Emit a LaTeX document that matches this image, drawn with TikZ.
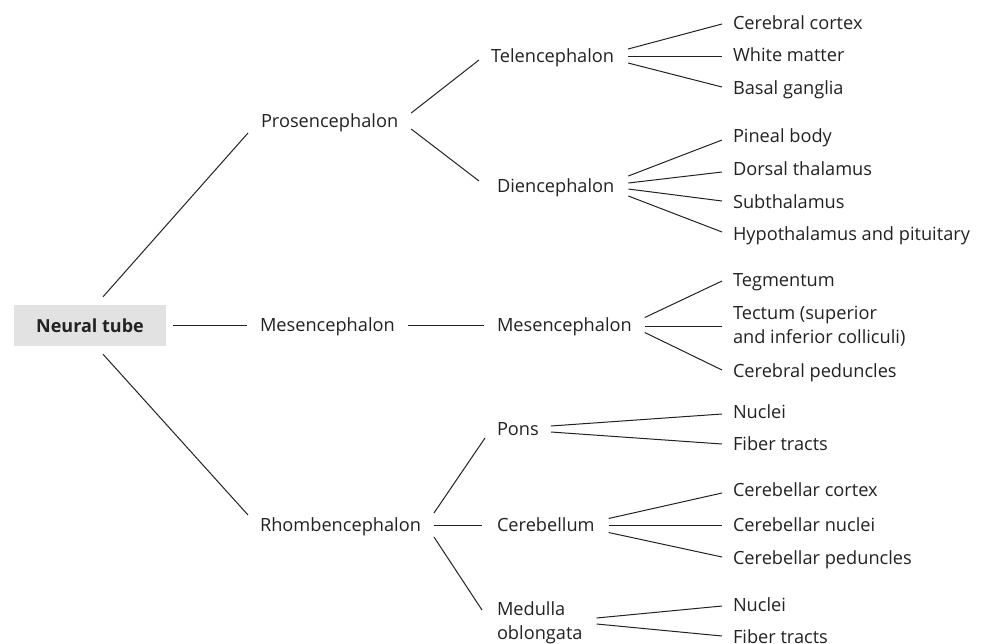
\documentclass[tikz,border=0pt]{standalone}
\usepackage{fontspec}
\setmainfont{Open Sans}
\usetikzlibrary{calc}
\definecolor{txt}{HTML}{222222}
\definecolor{boxgray}{HTML}{E2E2E2}
\tikzset{
  lbl/.style={anchor=west,inner sep=0pt,outer sep=0pt,text height=12.8pt,text depth=0pt,
    font=\fontsize{18.2}{24}\selectfont,text=txt,align=left},
  lbltwo/.style={lbl,text height=36.8pt},
  rootbox/.style={fill=boxgray,inner sep=0pt,minimum width=152pt,minimum height=41pt,
    font=\fontsize{18}{24}\selectfont\bfseries,text=txt},
  conn/.style={draw=txt,line width=1pt}
}
\begin{document}
\begin{tikzpicture}[x=1pt,y=-1pt]
\useasboundingbox (0,0) rectangle (988,643);
% root
\node[rootbox] (nt) at (90,325.5) {Neural tube};
% level 1
\node[lbl] (pros) at (261,121) {Prosencephalon};
\node[lbl] (mes1) at (260,325.5) {Mesencephalon};
\node[lbl] (rhomb) at (260,525) {Rhombencephalon};
% level 2
\node[lbl] (tel) at (491,56) {Telencephalon};
\node[lbl] (dien) at (497,186) {Diencephalon};
\node[lbl] (mes2) at (497,325.5) {Mesencephalon};
\node[lbl] (pons) at (497,429) {Pons};
\node[lbl] (cereb) at (497,525.5) {Cerebellum};
\node[lbltwo] (med) at (497,621) {Medulla\\oblongata};
% level 3
\node[lbl] (cc) at (733,23.5) {Cerebral cortex};
\node[lbl] (wm) at (733,55.5) {White matter};
\node[lbl] (bg) at (733,88) {Basal ganglia};
\node[lbl] (pb) at (733,136) {Pineal body};
\node[lbl] (dt) at (733,169.5) {Dorsal thalamus};
\node[lbl] (st) at (733,202.5) {Subthalamus};
\node[lbl] (hy) at (733,234) {Hypothalamus and pituitary};
\node[lbl] (teg) at (733,280.5) {Tegmentum};
\node[lbltwo] (tec) at (733,325) {Tectum (superior\\and inferior colliculi)};
\node[lbl] (cp) at (733,371) {Cerebral peduncles};
\node[lbl] (n1) at (733,412) {Nuclei};
\node[lbl] (ft1) at (733,444.5) {Fiber tracts};
\node[lbl] (ccx) at (733,490.5) {Cerebellar cortex};
\node[lbl] (cn) at (733,525.5) {Cerebellar nuclei};
\node[lbl] (cpd) at (733,558) {Cerebellar peduncles};
\node[lbl] (n2) at (733,605.5) {Nuclei};
\node[lbl] (ft2) at (733,637) {Fiber tracts};
% root connectors
\draw[conn] ($(nt.north)+(13,-8)$) -- ($(pros.west)+(-13,12)$);
\draw[conn] ($(nt.east)+(7,0)$) -- ($(mes1.west)+(-13,0)$);
\draw[conn] ($(nt.south)+(13,8)$) -- ($(rhomb.west)+(-12,-10)$);
% level 1 connectors
\draw[conn] ($(pros.east)+(13,-8)$) -- ($(tel.west)+(-12,4)$);
\draw[conn] ($(pros.east)+(13,8)$) -- ($(dien.west)+(-18,-5)$);
\draw[conn] ($(mes1.east)+(13,0)$) -- ($(mes2.west)+(-13,0)$);
\draw[conn] ($(rhomb.east)+(13,-12)$) -- ($(pons.west)+(-12,9)$);
\draw[conn] ($(rhomb.east)+(13,0.5)$) -- ($(cereb.west)+(-15,0)$);
\draw[conn] ($(rhomb.east)+(13,12)$) -- ($(med.west)+(-15,-11)$);
% level 2 connectors
\draw[conn] ($(tel.east)+(14,-7)$) -- ($(cc.west)+(-11,0.5)$);
\draw[conn] ($(tel.east)+(14,0)$) -- ($(wm.west)+(-11,0.5)$);
\draw[conn] ($(tel.east)+(14,7)$) -- ($(bg.west)+(-11,-1)$);
\draw[conn] ($(dien.east)+(14,-10)$) -- ($(pb.west)+(-11,4)$);
\draw[conn] ($(dien.east)+(14,-3)$) -- ($(dt.west)+(-11,2.5)$);
\draw[conn] ($(dien.east)+(14,3)$) -- ($(st.west)+(-11,-1.5)$);
\draw[conn] ($(dien.east)+(14,10)$) -- ($(hy.west)+(-11,-2)$);
\draw[conn] ($(mes2.east)+(13,-8)$) -- ($(teg.west)+(-11,0.5)$);
\draw[conn] ($(mes2.east)+(13,0.5)$) -- ($(tec.west)+(-11,1)$);
\draw[conn] ($(mes2.east)+(13,7)$) -- ($(cp.west)+(-11,-1)$);
\draw[conn] ($(pons.east)+(12,-3)$) -- ($(n1.west)+(-11,2)$);
\draw[conn] ($(pons.east)+(12,3)$) -- ($(ft1.west)+(-11,-0.5)$);
\draw[conn] ($(cereb.east)+(14,-7)$) -- ($(ccx.west)+(-11,2.5)$);
\draw[conn] ($(cereb.east)+(14,0)$) -- ($(cn.west)+(-11,0)$);
\draw[conn] ($(cereb.east)+(14,7)$) -- ($(cpd.west)+(-11,-1)$);
\draw[conn] ($(med.east)+(14,-3)$) -- ($(n2.west)+(-11,0.5)$);
\draw[conn] ($(med.east)+(14,3)$) -- ($(ft2.west)+(-11,-1)$);
\end{tikzpicture}
\end{document}
